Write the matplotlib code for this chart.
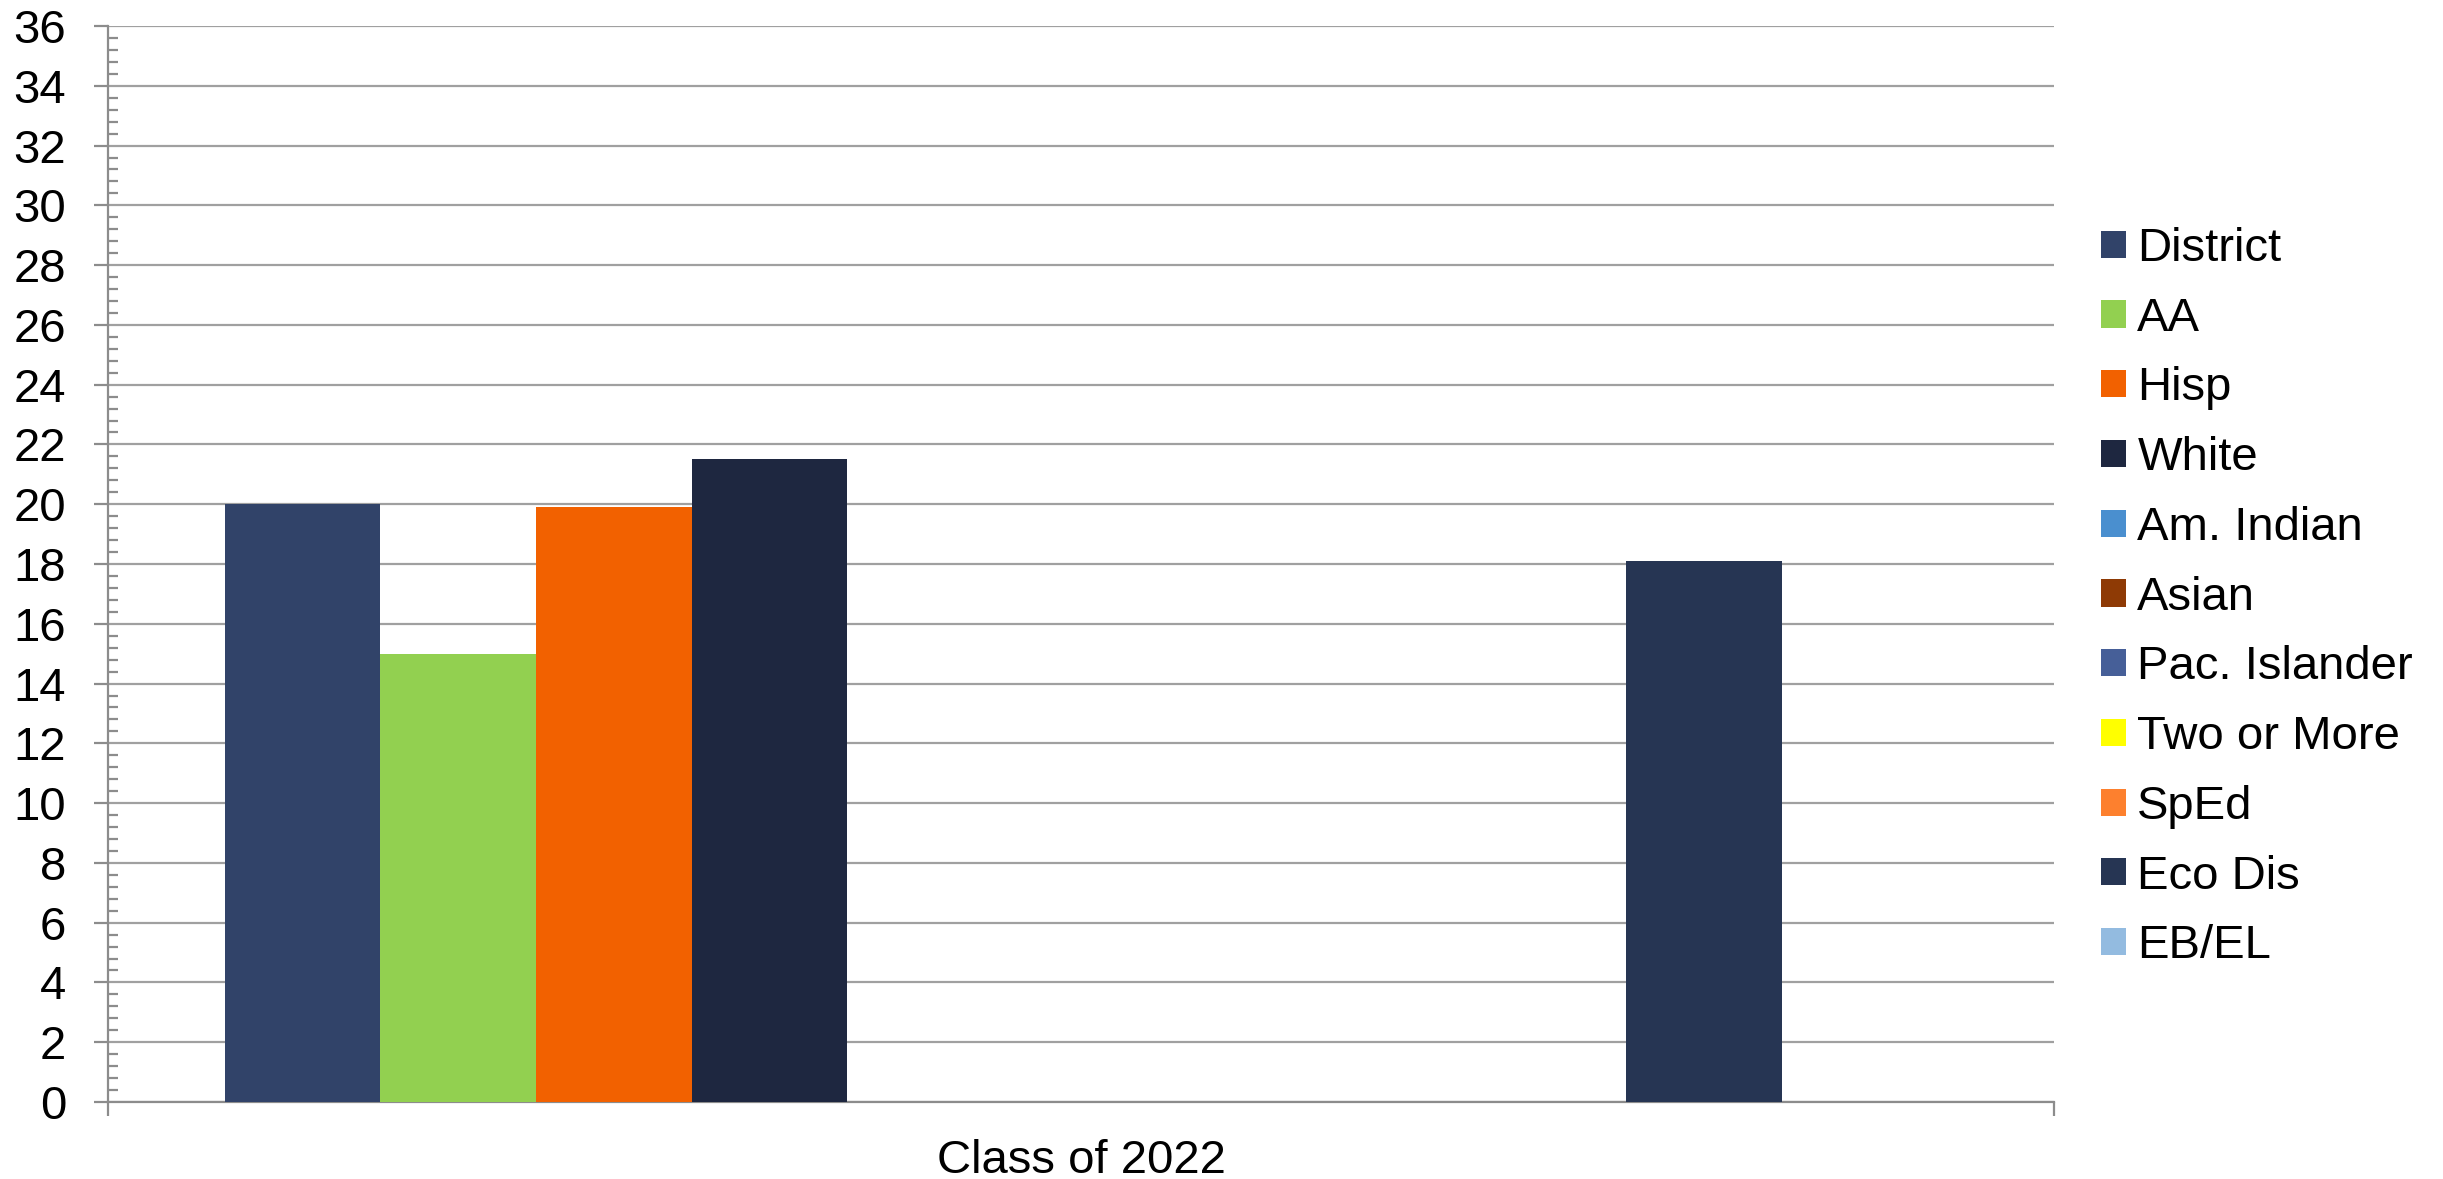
import numpy as np
import matplotlib
matplotlib.use("Agg")
import matplotlib.pyplot as plt
from matplotlib.ticker import MultipleLocator

plt.rcParams['font.family'] = ['Liberation Sans', 'DejaVu Sans']

categories = ["Class of 2022"]
series_names = ["District", "AA", "Hisp", "White", "Am. Indian", "Asian",
                "Pac. Islander", "Two or More", "SpEd", "Eco Dis", "EB/EL"]
series_values = [20.0, 15.0, 19.9, 21.5, np.nan, np.nan,
                 np.nan, np.nan, np.nan, 18.1, np.nan]
series_colors = ["#314369", "#92D050", "#F26100", "#1E2740", "#4A8FCF", "#8E3A05",
                 "#465F98", "#FFFF00", "#FD802E", "#263553", "#93BBE0"]
y_ticks = list(range(0, 37, 2))

W, H = 2443, 1179
fig = plt.figure(figsize=(W / 100, H / 100), dpi=100)
ax = fig.add_axes([108 / W, 1 - 1102 / H, (2054 - 108) / W, (1102 - 26) / H])

n = len(series_names)
bw = 1.0 / (n + 1.5)
x0 = np.arange(len(categories))
for i, (name, vals, col) in enumerate(zip(series_names, series_values, series_colors)):
    off = (i - (n - 1) / 2) * bw
    ax.bar(x0 + off, [vals], width=bw, color=col, label=name, linewidth=0, zorder=3)

ax.set_xlim(-0.5, len(categories) - 0.5)
ax.set_ylim(0, 36)
ax.set_yticks(y_ticks)
ax.set_yticklabels([str(t) for t in y_ticks])
ax.yaxis.set_minor_locator(MultipleLocator(0.4))
ax.grid(axis='y', which='major', color='#A0A0A0', linewidth=1.6, zorder=0)

grey = '#8C8C8C'
for s in ['top', 'right']:
    ax.spines[s].set_visible(False)
for s in ['left', 'bottom']:
    ax.spines[s].set_color(grey)
    ax.spines[s].set_linewidth(1.6)

ax.tick_params(axis='y', which='major', direction='out', length=10, width=1.6,
               color=grey, labelsize=34, pad=20)
ax.tick_params(axis='y', which='minor', direction='in', length=7.5, width=1.6, color=grey)

ax.set_xticks(x0)
ax.set_xticklabels(categories)
ax.set_xticks([-0.5, 0.5], minor=True)
ax.tick_params(axis='x', which='major', length=0, labelsize=34, pad=26.5)
ax.tick_params(axis='x', which='minor', direction='out', length=10, width=1.6, color=grey)

leg = ax.legend(loc='upper left', bbox_to_anchor=(2101 / W, 1 - 227 / H),
                bbox_transform=fig.transFigure, frameon=False, fontsize=34,
                handlelength=0.53, handleheight=0.51, handletextpad=0.24,
                labelspacing=0.545, borderpad=0, borderaxespad=0)

fig.savefig("out.png", dpi=100)
